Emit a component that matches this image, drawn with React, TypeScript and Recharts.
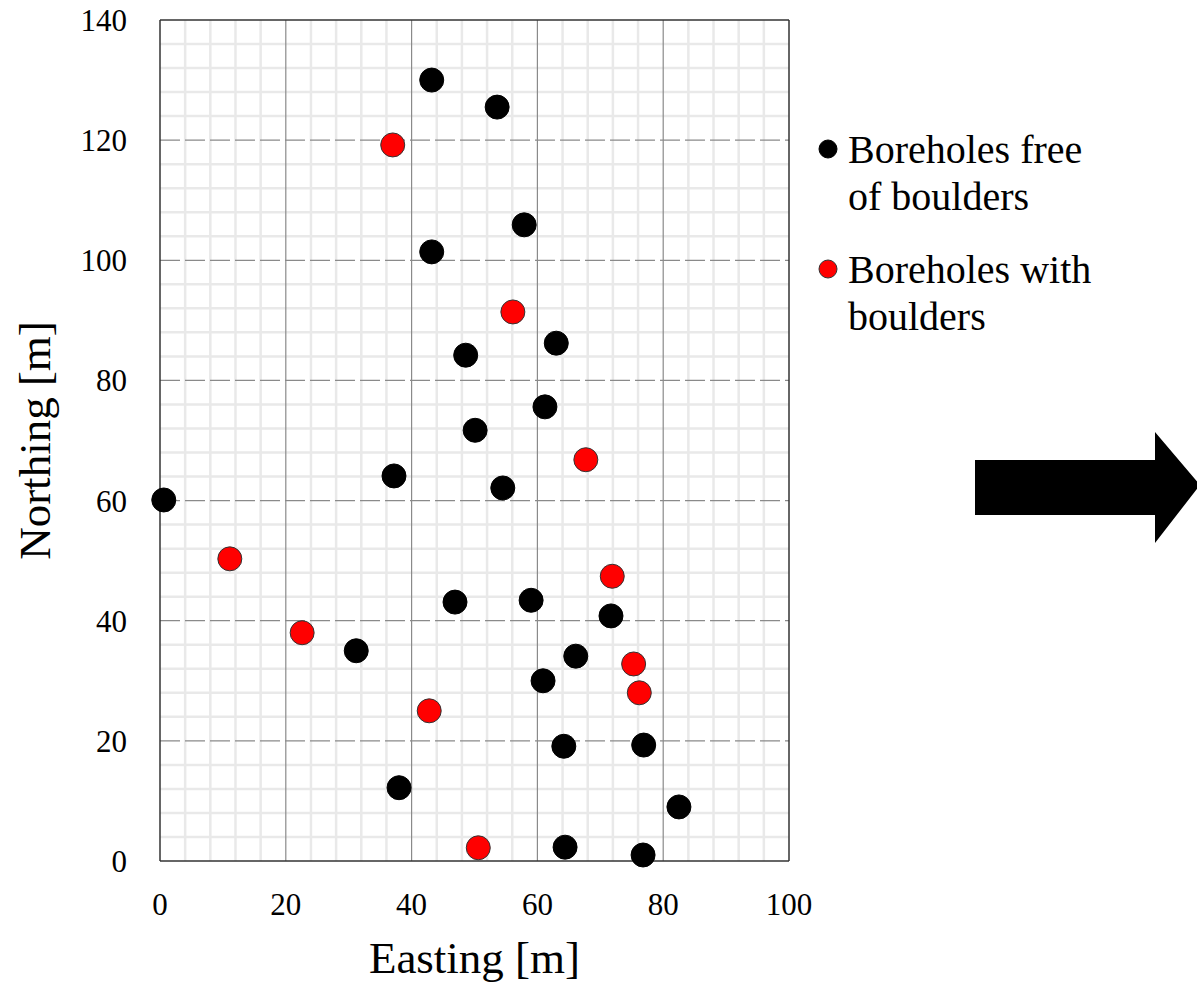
import React from 'react';
import {
  ScatterChart,
  Scatter,
  XAxis,
  YAxis,
  ReferenceLine,
  Legend,
} from 'recharts';

type Pt = { x: number; y: number };

// boreholes without boulders (easting, northing)
const freeEasting = [43.2, 53.6, 57.9, 43.2, 63.0, 48.6, 61.2, 50.1, 37.2, 54.5, 0.6, 46.9, 59.0, 71.7, 31.2, 66.1, 60.9, 64.2, 76.9, 38.0, 82.5, 64.4, 76.8];
const freeNorthing = [130.0, 125.5, 105.9, 101.4, 86.2, 84.2, 75.6, 71.7, 64.1, 62.1, 60.1, 43.1, 43.4, 40.8, 35.0, 34.1, 30.0, 19.1, 19.3, 12.2, 9.0, 2.3, 1.0];

// boreholes with boulders
const boulderEasting = [37.0, 56.1, 67.7, 11.1, 71.9, 22.6, 75.3, 76.2, 42.8, 50.6];
const boulderNorthing = [119.2, 91.4, 66.8, 50.3, 47.4, 38.0, 32.8, 28.0, 25.0, 2.2];

const xTicks = [0, 20, 40, 60, 80, 100];
const yTicks = [0, 20, 40, 60, 80, 100, 120, 140];
const xMinor = [4, 8, 12, 16, 24, 28, 32, 36, 44, 48, 52, 56, 64, 68, 72, 76, 84, 88, 92, 96];
const yMinor = [4, 8, 12, 16, 24, 28, 32, 36, 44, 48, 52, 56, 64, 68, 72, 76, 84, 88, 92, 96, 104, 108, 112, 116, 124, 128, 132, 136];

const legendLines = [
  { color: '#000000', stroke: '#000000', lines: ['Boreholes free', 'of boulders'] },
  { color: '#ff0000', stroke: '#333333', lines: ['Boreholes with', 'boulders'] },
];

const freeData: Pt[] = freeEasting.map((x, i) => ({ x, y: freeNorthing[i] }));
const boulderData: Pt[] = boulderEasting.map((x, i) => ({ x, y: boulderNorthing[i] }));

const serif = '"Liberation Serif", "Times New Roman", serif';

const Dot = (fill: string, stroke: string) => (props: any) => {
  const { cx, cy } = props;
  if (cx == null || cy == null) return <g />;
  return <circle cx={cx} cy={cy} r={12} fill={fill} stroke={stroke} strokeWidth={1} />;
};

function LegendBox() {
  return (
    <div style={{ fontFamily: serif, fontSize: 40, color: '#000', lineHeight: '47px', whiteSpace: 'nowrap' }}>
      {legendLines.map((item, i) => (
        <div key={i} style={{ position: 'relative', paddingLeft: 30, marginBottom: i === 0 ? 26 : 0 }}>
          <svg width={22} height={22} style={{ position: 'absolute', left: 0, top: 12 }}>
            <circle cx={10} cy={11} r={9} fill={item.color} stroke={item.stroke} strokeWidth={1} />
          </svg>
          {item.lines.map((l) => (
            <div key={l}>{l}</div>
          ))}
        </div>
      ))}
    </div>
  );
}

export default function App() {
  return (
    <div style={{ position: 'absolute', left: 0, top: 0, width: 1197, height: 984, background: '#fff' }}>
      <ScatterChart width={1197} height={984} margin={{ top: 20, right: 408, bottom: 63, left: 100 }}>
        {xMinor.map((v) => (
          <ReferenceLine key={'xm' + v} x={v} stroke="#e9e9e9" strokeWidth={2.5} />
        ))}
        {yMinor.map((v) => (
          <ReferenceLine key={'ym' + v} y={v} stroke="#e9e9e9" strokeWidth={2.5} />
        ))}
        {[20, 40, 60, 80].map((v) => (
          <ReferenceLine key={'xM' + v} x={v} stroke="#8a8a8a" strokeWidth={1.2} />
        ))}
        {[20, 40, 60, 80, 100, 120].map((v) => (
          <ReferenceLine key={'yM' + v} y={v} stroke="#8a8a8a" strokeWidth={1.2} strokeDasharray="20 5" />
        ))}
        <ReferenceLine y={140} stroke="#333" strokeWidth={1.5} />
        <ReferenceLine x={100} stroke="#333" strokeWidth={1.5} />
        <XAxis
          type="number"
          dataKey="x"
          domain={[0, 100]}
          ticks={xTicks}
          interval={0}
          height={60}
          tickLine={false}
          axisLine={{ stroke: '#333', strokeWidth: 1.5 }}
          tick={{ fontFamily: serif, fontSize: 31, fill: '#000' }}
          tickMargin={26}
          label={{ value: 'Easting [m]', position: 'bottom', offset: 20, style: { fontFamily: serif, fontSize: 45, fill: '#000' } }}
        />
        <YAxis
          type="number"
          dataKey="y"
          domain={[0, 140]}
          ticks={yTicks}
          interval={0}
          width={60}
          tickLine={false}
          axisLine={{ stroke: '#333', strokeWidth: 1.5 }}
          tick={{ fontFamily: serif, fontSize: 31, fill: '#000' }}
          tickMargin={27}
          label={{ value: 'Northing [m]', angle: -90, position: 'left', offset: 66, style: { fontFamily: serif, fontSize: 45, fill: '#000', textAnchor: 'middle' } }}
        />
        <Legend
          layout="vertical"
          verticalAlign="middle"
          align="center"
          wrapperStyle={{ left: 818, top: 126, width: 360 }}
          content={() => <LegendBox />}
        />
        <Scatter name="Boreholes free of boulders" data={freeData} shape={Dot('#000000', '#000000')} isAnimationActive={false} />
        <Scatter name="Boreholes with boulders" data={boulderData} shape={Dot('#ff0000', '#333333')} isAnimationActive={false} />
      </ScatterChart>
      <svg width={230} height={120} style={{ position: 'absolute', left: 970, top: 428 }}>
        <polygon points="5,32 185,32 185,4 230,57 230,57 185,115 185,87 5,87" fill="#000" />
      </svg>
    </div>
  );
}
